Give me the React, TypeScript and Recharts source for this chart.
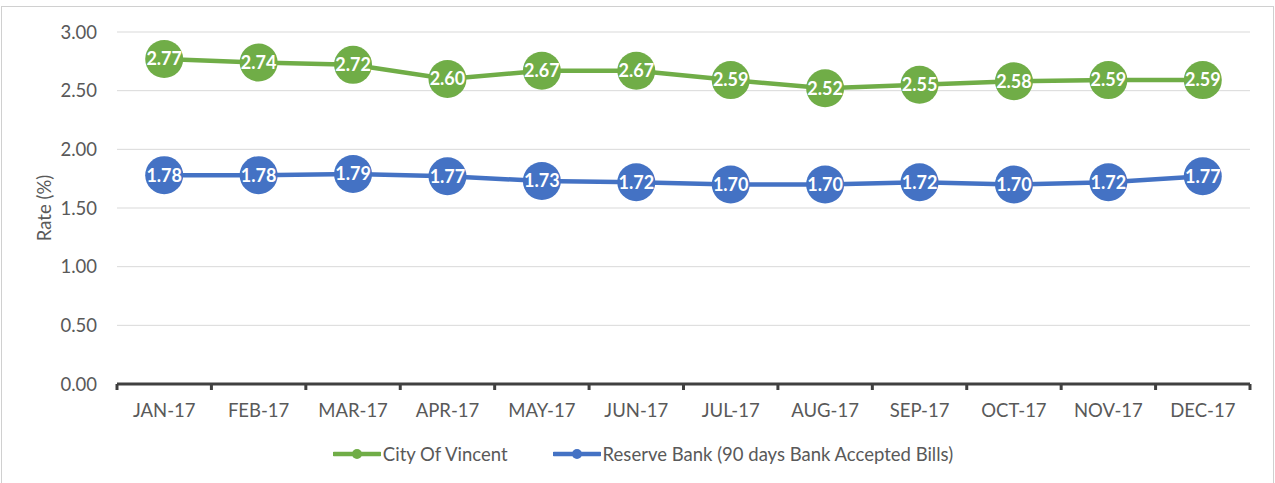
import React from 'react';
import { LineChart, Line, XAxis, YAxis, CartesianGrid, Legend, LabelList } from 'recharts';

const months = ['JAN-17', 'FEB-17', 'MAR-17', 'APR-17', 'MAY-17', 'JUN-17', 'JUL-17', 'AUG-17', 'SEP-17', 'OCT-17', 'NOV-17', 'DEC-17'];
const cityOfVincent = [2.77, 2.74, 2.72, 2.6, 2.67, 2.67, 2.59, 2.52, 2.55, 2.58, 2.59, 2.59];
const reserveBank = [1.78, 1.78, 1.79, 1.77, 1.73, 1.72, 1.7, 1.7, 1.72, 1.7, 1.72, 1.77];
const yTicks = [0, 0.5, 1, 1.5, 2, 2.5, 3];

const GREEN = '#70AD47';
const BLUE = '#4472C4';
const FONT = 'Lato, "Open Sans", sans-serif';
const TEXT = '#595959';
const FS = 18.5;

const data = months.map((m, i) => ({ month: m, city: cityOfVincent[i], rba: reserveBank[i] }));

const XTick = (props: any) => {
  const { x, y, payload, index } = props;
  const off = payload.offset || 0;
  const last = index === months.length - 1;
  return (
    <g>
      <line x1={x - off} y1={y} x2={x - off} y2={y + 6} stroke="#404040" strokeWidth={3} />
      {last && <line x1={x + off} y1={y} x2={x + off} y2={y + 6} stroke="#404040" strokeWidth={3} />}
      <text x={x} y={y + 33} textAnchor="middle" fill={TEXT} fontSize={FS} fontFamily={FONT}>
        {payload.value}
      </text>
    </g>
  );
};

const YLabel = (props: any) => {
  const vb = props.viewBox || {};
  const cx = 44;
  const cy = vb.y + vb.height / 2;
  return (
    <text x={cx} y={cy} transform={`rotate(-90, ${cx}, ${cy})`} textAnchor="middle" dominantBaseline="central" fill={TEXT} fontSize={FS} fontFamily={FONT}>
      Rate (%)
    </text>
  );
};

const LegendContent = () => {
  const items = [
    { name: 'City Of Vincent', color: GREEN },
    { name: 'Reserve Bank (90 days Bank Accepted Bills)', color: BLUE },
  ];
  return (
    <div style={{ display: 'flex', justifyContent: 'center', alignItems: 'center', height: 40, paddingLeft: 36, fontFamily: FONT, fontSize: FS, color: TEXT }}>
      {items.map((it, i) => (
        <div key={it.name} style={{ display: 'flex', alignItems: 'center', marginLeft: i === 0 ? 0 : 45 }}>
          <svg width={48} height={12} style={{ marginRight: 2 }}>
            <line x1={1} y1={6} x2={47} y2={6} stroke={it.color} strokeWidth={4.5} strokeLinecap="round" />
            <circle cx={24} cy={6} r={5} fill={it.color} />
          </svg>
          <span>{it.name}</span>
        </div>
      ))}
    </div>
  );
};

export default function App() {
  return (
    <div style={{ position: 'absolute', left: 0, top: 0, width: 1275, height: 483, background: '#fff', overflow: 'hidden' }}>
      <div style={{ position: 'absolute', left: 1, top: 6, width: 1271, height: 520, border: '1px solid #d0d0d0' }} />
      <div style={{ position: 'absolute', left: 0, top: 0 }}>
        <LineChart width={1275} height={483} data={data} margin={{ top: 32, right: 25, left: 0, bottom: 9 }}>
          <CartesianGrid horizontal vertical={false} stroke="#d9d9d9" strokeWidth={1} />
          <XAxis
            dataKey="month"
            scale="band"
            axisLine={{ stroke: '#404040', strokeWidth: 3 }}
            tickLine={false}
            tickSize={0}
            tickMargin={0}
            height={50}
            interval={0}
            tick={<XTick />}
          />
          <YAxis
            domain={[0, 3]}
            ticks={yTicks}
            width={117}
            axisLine={false}
            tickLine={false}
            tickSize={0}
            tickMargin={20}
            tickFormatter={(v: number) => v.toFixed(2)}
            tick={{ fill: TEXT, fontSize: FS, fontFamily: FONT }}
            label={<YLabel />}
          />
          <Legend verticalAlign="bottom" content={<LegendContent />} height={40} />
          <Line
            type="linear"
            dataKey="city"
            name="City Of Vincent"
            stroke={GREEN}
            strokeWidth={4.5}
            dot={{ r: 19, fill: GREEN, stroke: GREEN, strokeWidth: 0 }}
            activeDot={false}
            isAnimationActive={false}
          >
            <LabelList dataKey="city" position="center" fill="#fff" fontWeight="bold" fontSize={18} fontFamily={FONT} formatter={(v: any) => Number(v).toFixed(2)} />
          </Line>
          <Line
            type="linear"
            dataKey="rba"
            name="Reserve Bank (90 days Bank Accepted Bills)"
            stroke={BLUE}
            strokeWidth={4.5}
            dot={{ r: 19, fill: BLUE, stroke: BLUE, strokeWidth: 0 }}
            activeDot={false}
            isAnimationActive={false}
          >
            <LabelList dataKey="rba" position="center" fill="#fff" fontWeight="bold" fontSize={18} fontFamily={FONT} formatter={(v: any) => Number(v).toFixed(2)} />
          </Line>
        </LineChart>
      </div>
    </div>
  );
}
